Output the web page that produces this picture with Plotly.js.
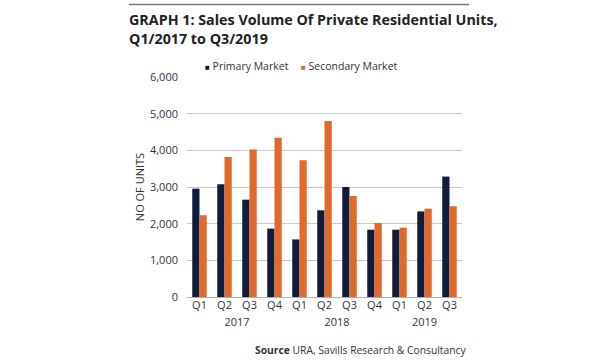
<!DOCTYPE html>
<html>
<head>
<meta charset="utf-8">
<script src="https://cdn.plot.ly/plotly-3.0.1.min.js"></script>
<style>html,body{margin:0;padding:0;background:#fff;}#chart{width:600px;height:360px;}</style>
</head>
<body>
<div id="chart"></div>
<script>
const years = ["2017","2017","2017","2017","2018","2018","2018","2018","2019","2019","2019"];
const quarters = ["Q1","Q2","Q3","Q4","Q1","Q2","Q3","Q4","Q1","Q2","Q3"];
const primary = [2955, 3075, 2655, 1865, 1570, 2365, 3000, 1835, 1835, 2335, 3285];
const secondary = [2230, 3820, 4025, 4340, 3730, 4800, 2755, 2020, 1890, 2410, 2475];
const seriesNames = ["Primary Market", "Secondary Market"];
const seriesColors = ["#101c3b", "#e2692c"];
const yTicks = [0, 1000, 2000, 3000, 4000, 5000, 6000];

const font = "Open Sans, Lato, sans-serif";
const traces = [
  {type: "bar", name: seriesNames[0], x: [years, quarters], y: primary,
   marker: {color: seriesColors[0]}},
  {type: "bar", name: seriesNames[1], x: [years, quarters], y: secondary,
   marker: {color: seriesColors[1]}}
];

// compact legend (small squares) drawn as annotations
const legendX = [(203 - 187) / 275, (299 - 187) / 275];
const legendY = (297 - 66) / 220;
const legendAnn = [];
seriesNames.forEach((n, i) => {
  legendAnn.push({xref: "paper", yref: "paper", x: legendX[i], y: legendY,
    xanchor: "left", yanchor: "middle", showarrow: false,
    text: '<span style="color:' + seriesColors[i] + ';font-size:8px">■</span> ' + n,
    font: {family: font, size: 10.5, color: "#333"}});
});

const layout = {
  width: 600, height: 360,
  margin: {l: 187, r: 138, t: 77, b: 63},
  paper_bgcolor: "#fff", plot_bgcolor: "#fff",
  font: {family: font, color: "#333", size: 11},
  barmode: "group", bargap: 0.42, bargroupgap: 0,
  showlegend: false,
  title: {
    text: "<b>GRAPH 1: Sales Volume Of Private Residential Units,<br>Q1/2017 to Q3/2019</b>",
    x: 129/600, xref: "container", xanchor: "left",
    y: 1 - 25/360, yref: "container", yanchor: "top",
    pad: {t: 0},
    font: {family: font, size: 14.3, color: "#222"}
  },
  xaxis: {
    type: "multicategory", showdividers: false, showgrid: false,
    showline: false, zeroline: false, ticks: "",
    tickfont: {family: font, size: 11, color: "#333"}
  },
  yaxis: {
    range: [0, 6000], tickvals: yTicks, tickformat: ",d",
    showgrid: true, gridcolor: "#c9c9c9", gridwidth: 1,
    zeroline: true, zerolinecolor: "#b0b0b0", showline: false, ticks: "",
    ticklabelstandoff: 8,
    tickfont: {family: font, size: 11, color: "#333"},
    title: {text: "NO OF UNITS", font: {family: font, size: 11, color: "#333"}, standoff: 3}
  },
  shapes: [
    {type: "rect", xref: "paper", yref: "paper", layer: "above",
     x0: (129-187)/275, x1: (469-187)/275, y0: 1 + 71.8/220, y1: 1 + 73.2/220,
     fillcolor: "#7a7a7a", line: {width: 0}}
  ],
  annotations: legendAnn.concat([
    {xref: "paper", yref: "paper", x: (468-187)/275, y: (297-350)/220,
     xanchor: "right", yanchor: "middle", showarrow: false,
     text: "<b>Source</b> URA, Savills Research & Consultancy",
     font: {family: font, size: 10.3, color: "#333"}}
  ])
};
Plotly.newPlot("chart", traces, layout, {displayModeBar: false, staticPlot: true});
</script>
</body>
</html>
